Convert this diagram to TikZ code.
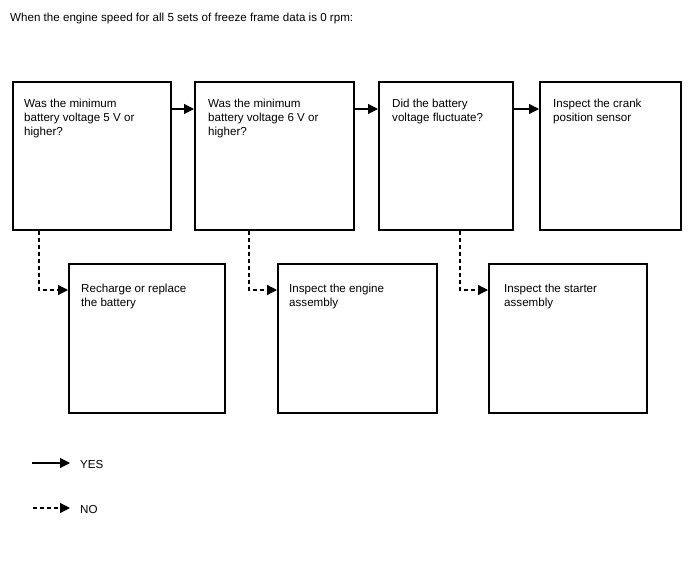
\documentclass[tikz,border=0pt]{standalone}
\usepackage{fontspec}
\setmainfont{Liberation Sans}
\usetikzlibrary{arrows.meta}
\begin{document}
\begin{tikzpicture}[x=1pt,y=-1pt,
  box/.style={draw=black,line width=1.6pt,anchor=north west,inner sep=0pt,minimum height=148pt},
  txt/.style={anchor=north west,inner sep=0pt,align=left,font=\fontsize{11.6}{14}\selectfont},
  yesline/.style={draw=black,line width=1.2pt,-{Triangle[length=10pt,width=10pt]}},
  noline/.style={draw=black,line width=1.2pt,dash pattern=on 4pt off 3pt,-{Triangle[length=10pt,width=10pt]}}]
\path[use as bounding box,fill=white] (0,0) rectangle (688,560);

\node[txt] (title) at (10,13) {When the engine speed for all 5 sets of freeze frame data is 0 rpm:};

\node[box,minimum width=158pt] (b1) at (12,81) {};
\node[box,minimum width=159pt] (b2) at (194,81) {};
\node[box,minimum width=134pt] (b3) at (378,81) {};
\node[box,minimum width=141pt] (b4) at (539,81) {};
\node[box,minimum width=156pt,minimum height=149pt] (l1) at (68,263) {};
\node[box,minimum width=159pt,minimum height=149pt] (l2) at (277,263) {};
\node[box,minimum width=158pt,minimum height=149pt] (l3) at (488,263) {};

\node[txt] (b1t) at (24,99) {Was the minimum\\battery voltage 5 V or\\higher?};
\node[txt] (b2t) at (208,99) {Was the minimum\\battery voltage 6 V or\\higher?};
\node[txt] (b3t) at (392,99) {Did the battery\\voltage fluctuate?};
\node[txt] (b4t) at (553,99) {Inspect the crank\\position sensor};
\node[txt] (l1t) at (81,284) {Recharge or replace\\the battery};
\node[txt] (l2t) at (289,284) {Inspect the engine\\assembly};
\node[txt] (l3t) at (504,284) {Inspect the starter\\assembly};

\draw[yesline] ([yshift=-28pt]b1.north east) -- ([yshift=-28pt]b2.north west);
\draw[yesline] ([yshift=-28pt]b2.north east) -- ([yshift=-28pt]b3.north west);
\draw[yesline] ([yshift=-28pt]b3.north east) -- ([yshift=-28pt]b4.north west);

\draw[noline] ([xshift=27pt]b1.south west) |- ([yshift=-27pt]l1.north west);
\draw[noline] ([xshift=55pt]b2.south west) |- ([yshift=-27pt]l2.north west);
\draw[noline] ([xshift=82pt]b3.south west) |- ([yshift=-27pt]l3.north west);

\coordinate (ys) at (32,463);
\coordinate (ye) at (70,463);
\coordinate (ns) at (33,508);
\coordinate (ne) at (70,508);
\draw[yesline] (ys) -- (ye);
\draw[noline] (ns) -- (ne);
\node[txt,anchor=west] (yes) at (80,464) {YES};
\node[txt,anchor=west] (no) at (80,509) {NO};
\end{tikzpicture}
\end{document}
